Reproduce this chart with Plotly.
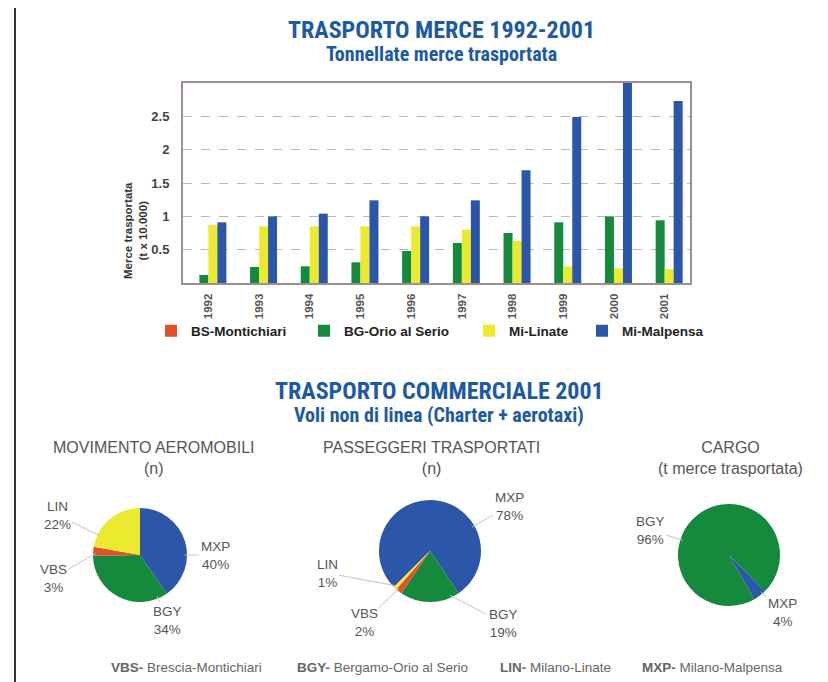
import math
import plotly.graph_objects as go

W, H = 828, 682

# ---------------- data ----------------
years = ["1992", "1993", "1994", "1995", "1996", "1997", "1998", "1999", "2000", "2001"]
bs_montichiari = [0, 0, 0, 0, 0, 0, 0, 0, 0, 0]
bg_orio = [0.12, 0.24, 0.25, 0.31, 0.48, 0.60, 0.75, 0.91, 1.00, 0.94]
mi_linate = [0.87, 0.85, 0.85, 0.85, 0.85, 0.80, 0.63, 0.25, 0.22, 0.21]
mi_malpensa = [0.91, 1.00, 1.04, 1.24, 1.00, 1.24, 1.69, 2.49, 3.00, 2.73]
bar_series = ["BS-Montichiari", "BG-Orio al Serio", "Mi-Linate", "Mi-Malpensa"]
y_ticks = [0.5, 1, 1.5, 2, 2.5]
y_tick_text = ["0.5", "1", "1.5", "2", "2.5"]

mov_labels = ["MXP", "BGY", "VBS", "LIN"]
mov_values = [40, 34, 3, 22]
pax_labels = ["MXP", "BGY", "VBS", "LIN"]
pax_values = [78, 19, 2, 1]
cargo_labels = ["BGY", "MXP"]
cargo_values = [96, 4]

legend_codes = ["VBS-", "BGY-", "LIN-", "MXP-"]
legend_names = ["Brescia-Montichiari", "Bergamo-Orio al Serio", "Milano-Linate", "Milano-Malpensa"]

# ---------------- style ----------------
RED, GREEN, YELLOW, BLUE = "#e2502a", "#15893c", "#ecea2e", "#2c57a8"
bar_colors = [RED, GREEN, YELLOW, BLUE]
code_color = {"MXP": BLUE, "BGY": GREEN, "VBS": RED, "LIN": YELLOW}
TITLE_BLUE = "#1d5aa3"
TITLE_FONT = "Liberation Sans Narrow, Roboto Condensed, DejaVu Sans Condensed, Arial Narrow, sans-serif"
TXT_FONT = "Liberation Sans, Arial, sans-serif"
GRAY = "#555555"


def px(x):
    return x / W


def py(y):
    return 1 - y / H


fig = go.Figure()

# ---------------- bar chart ----------------
plot_l, plot_r, plot_t, plot_b = 175, 682, 75, 275
series_values = [bs_montichiari, bg_orio, mi_linate, mi_malpensa]
legend_ids = ["legend", "legend2", "legend3", "legend4"]
for name, vals, col, lg in zip(bar_series, series_values, bar_colors, legend_ids):
    fig.add_trace(go.Bar(x=years, y=vals, name=name, marker=dict(color=col, line=dict(width=0)),
                         legend=lg, hoverinfo="x+y+name"))

axis_line = "#9c8f8c"
fig.update_layout(
    xaxis=dict(domain=[px(plot_l), px(plot_r)], type="category", tickangle=-90,
               showline=True, mirror=True, linecolor=axis_line, linewidth=2,
               showgrid=False, ticks="", ticklabelstandoff=4,
               tickfont=dict(family=TXT_FONT, size=11.5, color="#555", weight="bold")),
    yaxis=dict(domain=[py(plot_b), py(plot_t)], range=[0, 3], tickvals=y_ticks, ticktext=y_tick_text,
               showline=True, mirror=True, linecolor=axis_line, linewidth=2,
               showgrid=True, gridcolor="#b8b8b8", griddash="dash", gridwidth=1, zeroline=False,
               ticks="", ticklabelstandoff=9,
               tickfont=dict(family=TXT_FONT, size=13, color="#444", weight="bold")),
    barmode="group", bargap=0.29, bargroupgap=0,
)

legend_x = [143, 296, 461, 574]
leg_common = dict(orientation="h", yanchor="middle", xanchor="left", bgcolor="rgba(0,0,0,0)",
                  font=dict(family=TXT_FONT, size=13.5, color="#222", weight="bold"),
                  itemwidth=30, tracegroupgap=0)
fig.update_layout(
    legend=dict(x=px(legend_x[0]), y=py(323), **leg_common),
    legend2=dict(x=px(legend_x[1]), y=py(323), **leg_common),
    legend3=dict(x=px(legend_x[2]), y=py(323), **leg_common),
    legend4=dict(x=px(legend_x[3]), y=py(323), **leg_common),
)

annotations = []
annotations.append(dict(x=px(112), y=py(172), xref="paper", yref="paper", textangle=-90,
                        text="Merce trasportata<br>(t x 10.000)", showarrow=False,
                        font=dict(family=TXT_FONT, size=11.5, color="#333", weight="bold")))

# ---------------- titles ----------------
def title(text, x, y, size):
    annotations.append(dict(x=px(x), y=py(y), xref="paper", yref="paper", text=text, showarrow=False,
                            xanchor="center", yanchor="middle",
                            font=dict(family=TITLE_FONT, size=size, color=TITLE_BLUE, weight="bold")))


title("TRASPORTO MERCE 1992-2001", 433, 22, 24)
title("Tonnellate merce trasportata", 433, 46, 20)
title("TRASPORTO COMMERCIALE 2001", 431, 383, 24)
title("Voli non di linea (Charter + aerotaxi)", 431, 407, 20)

# ---------------- pies ----------------
pies = [
    dict(labels=mov_labels, values=mov_values, cx=132, cy=547, r=47, rot=0,
         head="MOVIMENTO AEROMOBILI<br>(n)", hx=146,
         lab_pos={"LIN": (49, 507), "VBS": (45, 570), "MXP": (207, 547), "BGY": (159, 612)}),
    dict(labels=pax_labels, values=pax_values, cx=422, cy=543, r=51, rot=225,
         head="PASSEGGERI TRASPORTATI<br>(n)", hx=423,
         lab_pos={"MXP": (501, 498), "LIN": (319, 565), "VBS": (356, 614), "BGY": (495, 615)}),
    dict(labels=cargo_labels, values=cargo_values, cx=721, cy=547, r=51, rot=150,
         head="CARGO<br>(t merce trasportata)", hx=722,
         lab_pos={"BGY": (642, 522), "MXP": (774, 604)}),
]

for p in pies:
    cx, cy, r = p["cx"], p["cy"], p["r"]
    fig.add_trace(go.Pie(labels=p["labels"], values=p["values"], sort=False, direction="clockwise",
                         rotation=p["rot"], textinfo="none", showlegend=False, hoverinfo="label+percent",
                         marker=dict(colors=[code_color[l] for l in p["labels"]], line=dict(width=0)),
                         domain=dict(x=[px(cx - r), px(cx + r)], y=[py(cy + r), py(cy - r)])))
    annotations.append(dict(x=px(p["hx"]), y=py(450), xref="paper", yref="paper", text=p["head"],
                            showarrow=False, xanchor="center", yanchor="middle",
                            font=dict(family=TXT_FONT, size=16, color=GRAY)))
    total = sum(p["values"])
    start = p["rot"]
    for lab, val in zip(p["labels"], p["values"]):
        span = 360.0 * val / total
        a0, a1 = start, start + span
        start = a1
        lx, ly = p["lab_pos"][lab]
        ang = math.degrees(math.atan2(lx - cx, -(ly - cy))) % 360
        rel = (ang - a0) % 360
        pad = min(span * 0.25, 10)
        if rel > span - pad:
            if rel - span < 360 - rel:
                rel = span - pad
            else:
                rel = pad
        if rel < pad:
            rel = pad
        a = math.radians(a0 + rel)
        hx = cx + 0.95 * r * math.sin(a)
        hy = cy - 0.95 * r * math.cos(a)
        annotations.append(dict(x=px(hx), y=py(hy), xref="paper", yref="paper",
                                ax=lx - hx, ay=ly - hy, axref="pixel", ayref="pixel",
                                text=f"{lab}<br>{val}%", showarrow=True, arrowhead=0,
                                arrowwidth=1, arrowcolor="#c4c4c4", standoff=0,
                                font=dict(family=TXT_FONT, size=13.5, color=GRAY)))

# ---------------- bottom key ----------------
key_x = [101, 287, 490, 632]
for code, name, kx in zip(legend_codes, legend_names, key_x):
    annotations.append(dict(x=px(kx), y=py(659), xref="paper", yref="paper", xanchor="left",
                            yanchor="middle", showarrow=False,
                            text=f"<b>{code}</b> {name}",
                            font=dict(family=TXT_FONT, size=13.5, color="#666")))

fig.update_layout(
    annotations=annotations,
    width=W, height=H, margin=dict(l=0, r=0, t=0, b=0),
    paper_bgcolor="white", plot_bgcolor="white",
    shapes=[dict(type="line", xref="paper", yref="paper", x0=px(7), x1=px(7), y0=0, y1=1,
                 line=dict(color="#333", width=2))],
)

fig.write_html("out.html")
